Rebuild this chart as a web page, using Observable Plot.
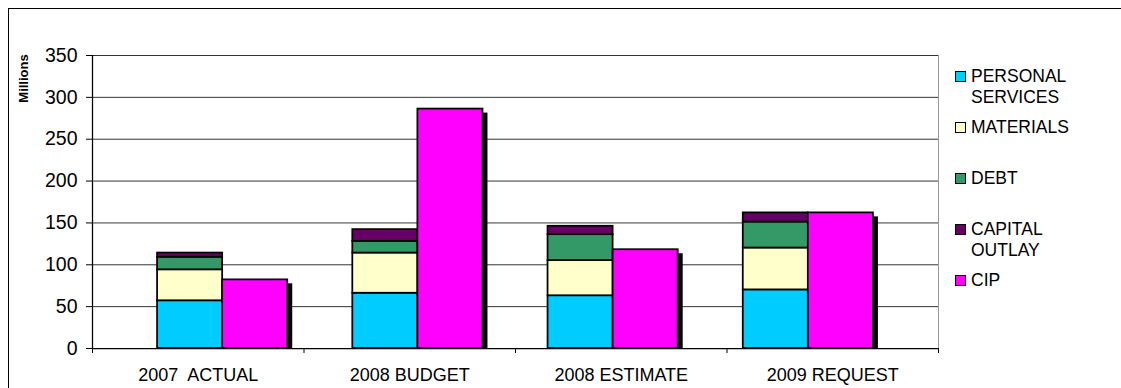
<!DOCTYPE html>
<html>
<head>
<meta charset="utf-8">
<script src="https://cdn.jsdelivr.net/npm/d3@7"></script>
<script src="https://cdn.jsdelivr.net/npm/@observablehq/plot@0.6"></script>
<style>
  html, body { margin: 0; padding: 0; background: #fff; overflow: hidden; }
  #wrap { position: relative; width: 1121px; height: 388px; overflow: hidden; font-family: "Liberation Sans", Arial, sans-serif; }
  #frame { position: absolute; left: 8px; top: 8px; width: 1200px; height: 500px; border: 1px solid #000; box-sizing: border-box; }
  #chart { position: absolute; left: 0; top: 0; }
  #chart svg text { white-space: pre; }
  #legend { position: absolute; left: 955px; top: 66px; }
  .item { display: flex; align-items: flex-start; height: 51px; }
  .sw { width: 9px; height: 9px; border: 1.5px solid #000; margin-top: 5px; margin-right: 5px; flex: none; }
  .lbl { font-size: 17.5px; line-height: 21px; width: 125px; color: #000; }
</style>
</head>
<body>
<div id="wrap">
  <div id="frame"></div>
  <div id="chart"></div>
  <div id="legend"></div>
</div>
<script>
const categories = ["2007  ACTUAL", "2008 BUDGET", "2008 ESTIMATE", "2009 REQUEST"];
const seriesNames = ["PERSONAL SERVICES", "MATERIALS", "DEBT", "CAPITAL OUTLAY", "CIP"];
const seriesColors = ["#00CCFF", "#FFFFCC", "#339966", "#660066", "#FF00FF"];
const personalServices = [57, 66, 63, 70];
const materials = [37, 48, 42, 50];
const debt = [15, 14, 31, 31];
const capitalOutlay = [5, 14, 10, 11];
const cip = [82, 286, 118, 162];
const yTicks = [0, 50, 100, 150, 200, 250, 300, 350];

// Layout: each category group holds a stacked column and a CIP column, one slot each
const stackedSeries = [personalServices, materials, debt, capitalOutlay];
const stackedRows = [];
categories.forEach((c, i) => {
  stackedSeries.forEach((vals, s) => {
    stackedRows.push({cat: c, idx: i, series: seriesNames[s], value: vals[i]});
  });
});
const cipRows = categories.map((c, i) => ({cat: c, idx: i, series: "CIP", value: cip[i]}));

const slotsPerGroup = 3;
const xMin = -1, xMax = categories.length * slotsPerGroup;
const bandW = (xMax - xMin) / categories.length;
const boundaries = d3.range(categories.length + 1).map(k => xMin + k * bandW);
const centers = d3.range(categories.length).map(k => xMin + (k + 0.5) * bandW);

const color = {domain: seriesNames, range: seriesColors};

const plot = Plot.plot({
  width: 1121,
  height: 388,
  marginLeft: 92,
  marginRight: 183,
  marginTop: 55,
  marginBottom: 40,
  style: {fontFamily: "Liberation Sans, Arial, sans-serif", fontSize: "18px", background: "transparent", color: "#000"},
  x: {type: "linear", domain: [xMin, xMax], axis: null, label: null},
  y: {domain: [0, 350], axis: null, label: null},
  color,
  marks: [
    Plot.gridY(yTicks.slice(1), {stroke: "#000", strokeOpacity: 0.8}),
    Plot.ruleX([xMax], {stroke: "#999"}),
    // CIP shadow
    Plot.rect(cipRows, {x1: d => d.idx * slotsPerGroup + 1, x2: d => d.idx * slotsPerGroup + 2, y1: 0, y2: "value", fill: "#000", dx: 5, dy: 4, insetBottom: 4}),
    Plot.rect(stackedRows, Plot.stackY({
      x: "idx",
      x1: d => d.idx * slotsPerGroup,
      x2: d => d.idx * slotsPerGroup + 1,
      y: "value",
      fill: "series",
      stroke: "#000",
      strokeWidth: 1.75
    })),
    Plot.rect(cipRows, {x1: d => d.idx * slotsPerGroup + 1, x2: d => d.idx * slotsPerGroup + 2, y1: 0, y2: "value", fill: "series", stroke: "#000", strokeWidth: 1.75}),
    Plot.ruleY([0], {stroke: "#000", strokeWidth: 1.25}),
    Plot.ruleX([xMin], {stroke: "#000", strokeWidth: 1.25}),
    Plot.axisY(yTicks, {label: null, tickSize: 6, tickPadding: 9, fontSize: 19.5, tickFormat: d => String(d)}),
    Plot.axisX(boundaries, {label: null, tickSize: 5, tickFormat: () => ""}),
    Plot.axisX(centers, {label: null, tickSize: 0, tickPadding: 20, fontSize: 18, tickFormat: d => categories[Math.round((d - xMin) / bandW - 0.5)]}),
    Plot.text(["Millions"], {frameAnchor: "top-left", text: d => d, rotate: -90, dx: -69, dy: 23, fontWeight: "bold", fontSize: 13, textAnchor: "middle", lineAnchor: "middle"})
  ]
});
document.getElementById("chart").appendChild(plot);

const legend = document.getElementById("legend");
seriesNames.forEach((name, i) => {
  const item = document.createElement("div");
  item.className = "item";
  const sw = document.createElement("div");
  sw.className = "sw";
  sw.style.background = seriesColors[i];
  const lbl = document.createElement("div");
  lbl.className = "lbl";
  lbl.textContent = name;
  item.appendChild(sw);
  item.appendChild(lbl);
  legend.appendChild(item);
});
</script>
</body>
</html>
